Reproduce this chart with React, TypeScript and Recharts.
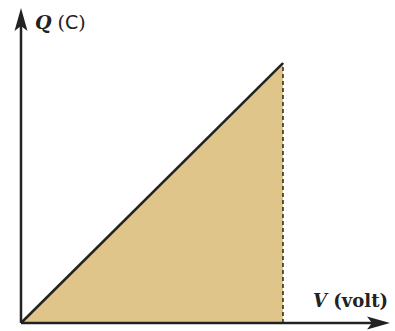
import React from "react";
import {
  ComposedChart,
  Area,
  XAxis,
  YAxis,
  ReferenceLine,
  ReferenceDot,
  Customized,
} from "recharts";

// charge vs voltage: straight line through the origin, up to the final point
const voltage = [0, 7.1];
const charge = [0, 8.25];
const axisMax = 10;

const data = voltage.map((v, i) => ({ v, q: charge[i] }));

const INK = "#222";
const FILL = "#dfc58a";

// arrowhead pointing up, tip at (cx, cy)
function ArrowUp(props: any) {
  const { cx, cy } = props;
  return (
    <path
      d={`M${cx},${cy} L${cx + 6.5},${cy + 23} L${cx},${cy + 18} L${cx - 6.5},${cy + 23} Z`}
      fill={INK}
    />
  );
}

// arrowhead pointing right, tip at (cx, cy)
function ArrowRight(props: any) {
  const { cx, cy } = props;
  return (
    <path
      d={`M${cx},${cy} L${cx - 23},${cy - 6.5} L${cx - 18},${cy} L${cx - 23},${cy + 6.5} Z`}
      fill={INK}
    />
  );
}

function AxisTitles() {
  return (
    <g>
      <text x={35} y={29} fontSize={19} fill={INK} fontFamily="DejaVu Serif">
        <tspan fontStyle="italic" fontWeight="bold">Q</tspan>
        <tspan> (</tspan>
        <tspan fontFamily="DejaVu Sans">C</tspan>
        <tspan>)</tspan>
      </text>
      <text
        x={388}
        y={307}
        fontSize={18}
        fill={INK}
        fontFamily="DejaVu Serif"
        fontWeight="bold"
        textAnchor="end"
      >
        <tspan fontStyle="italic">V</tspan>
        <tspan> (volt)</tspan>
      </text>
    </g>
  );
}

export default function App() {
  return (
    <div style={{ position: "absolute", left: 0, top: 0, background: "#fff" }}>
      <ComposedChart
        width={395}
        height={331}
        data={data}
        margin={{ top: 8, right: 5, bottom: 8, left: 21 }}
      >
        <XAxis type="number" dataKey="v" domain={[0, axisMax]} hide />
        <YAxis type="number" domain={[0, axisMax]} hide />
        <Area
          type="linear"
          dataKey="q"
          fill={FILL}
          fillOpacity={1}
          stroke={INK}
          strokeWidth={2.5}
          dot={false}
          activeDot={false}
          isAnimationActive={false}
        />
        <ReferenceLine
          segment={[
            { x: voltage[1], y: 0 },
            { x: voltage[1], y: charge[1] },
          ]}
          stroke={INK}
          strokeWidth={1.5}
          strokeDasharray="4 3"
        />
        <ReferenceLine
          segment={[
            { x: 0, y: 0 },
            { x: axisMax - 0.3, y: 0 },
          ]}
          stroke={INK}
          strokeWidth={2.5}
        />
        <ReferenceLine
          segment={[
            { x: 0, y: 0 },
            { x: 0, y: axisMax - 0.3 },
          ]}
          stroke={INK}
          strokeWidth={2.5}
        />
        <ReferenceDot x={0} y={axisMax} r={0} shape={ArrowUp} />
        <ReferenceDot x={axisMax} y={0} r={0} shape={ArrowRight} />
        <Customized component={AxisTitles} />
      </ComposedChart>
    </div>
  );
}
